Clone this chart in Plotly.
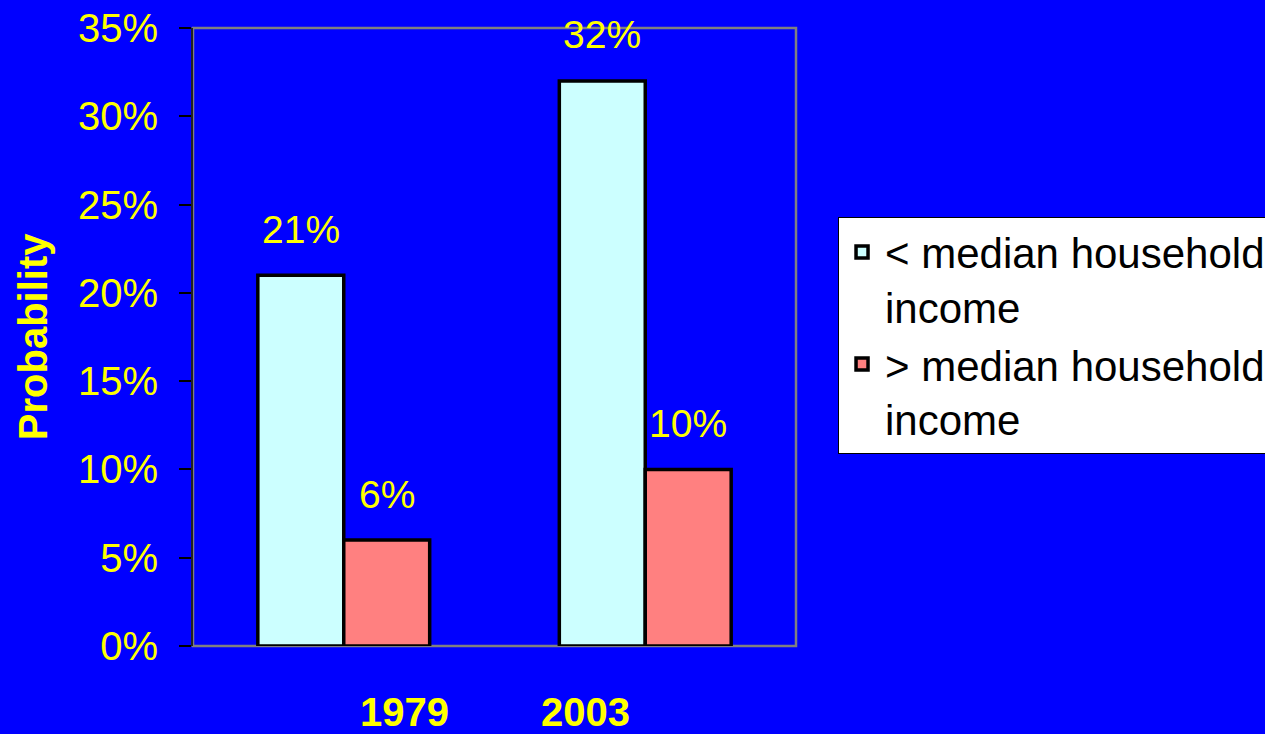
import plotly.graph_objects as go

# Probability by household income group, two survey years
years = ["1979", "2003"]
below_median = [0.21, 0.32]
above_median = [0.06, 0.10]
series_names = ["< median household<br>income", "> median household<br>income"]
y_title = "Probability"

BG = "#0000FF"
YELLOW = "#FFFF00"
FONT = "Liberation Sans, Arial, sans-serif"

fig = go.Figure()
fig.add_trace(go.Bar(
    x=years, y=below_median, name=series_names[0],
    marker=dict(color="#CCFFFF", line=dict(color="black", width=3.5)),
))
fig.add_trace(go.Bar(
    x=years, y=above_median, name=series_names[1],
    marker=dict(color="#FF8080", line=dict(color="black", width=3.5)),
))

# Annotations on a category axis are placed by category index
# (the year strings would otherwise be read as numeric positions).
annotations = []
for vals, shift in ((below_median, -43), (above_median, 43)):
    for i, v in enumerate(vals):
        annotations.append(dict(
            x=i, y=v, xref="x", yref="y", text=f"{v:.0%}", showarrow=False,
            xshift=shift, yshift=46, yanchor="middle",
            font=dict(family=FONT, size=39, color=YELLOW),
        ))

# Year labels below the axis
for i, (yr, shift) in enumerate(zip(years, (61, -60))):
    annotations.append(dict(
        x=i, y=0, xref="x", yref="paper", text=f"<b>{yr}</b>", showarrow=False,
        xshift=shift, yshift=-66, yanchor="middle",
        font=dict(family=FONT, size=40, color=YELLOW),
    ))

# Rotated axis title
annotations.append(dict(
    x=-0.265, y=0.5, xref="paper", yref="paper", text=f"<b>{y_title}</b>",
    showarrow=False, textangle=-90, xanchor="center", yanchor="middle",
    font=dict(family=FONT, size=40, color=YELLOW),
))

fig.update_layout(
    width=1265, height=734,
    paper_bgcolor=BG, plot_bgcolor=BG,
    margin=dict(l=193, r=469, t=28, b=88, autoexpand=False),
    barmode="group", bargap=0.43, bargroupgap=0,
    showlegend=True,
    legend=dict(
        x=1.0697, y=0.694, xanchor="left", yanchor="top",
        bgcolor="white", bordercolor="black", borderwidth=1,
        font=dict(family=FONT, size=42, color="black"),
        valign="top", tracegroupgap=14, itemwidth=36,
    ),
    annotations=annotations,
    shapes=[dict(
        type="rect", xref="paper", yref="paper", x0=0, y0=0, x1=1, y1=1,
        line=dict(color="#808080", width=2.5), layer="below",
    )],
)

fig.update_xaxes(
    type="category", range=[-0.5, len(years) - 0.5],
    showticklabels=False, showgrid=False, zeroline=False, ticks="",
    showline=False,
)
fig.update_yaxes(
    range=[0, 0.35], dtick=0.05, tickformat=".0%",
    showgrid=False, zeroline=False,
    showline=True, linecolor="#202020", linewidth=2,
    ticks="outside", ticklen=12, tickcolor="black", tickwidth=1.5,
    ticklabelstandoff=13,
    tickfont=dict(family=FONT, size=40, color=YELLOW),
)

fig.write_html("out.html")
